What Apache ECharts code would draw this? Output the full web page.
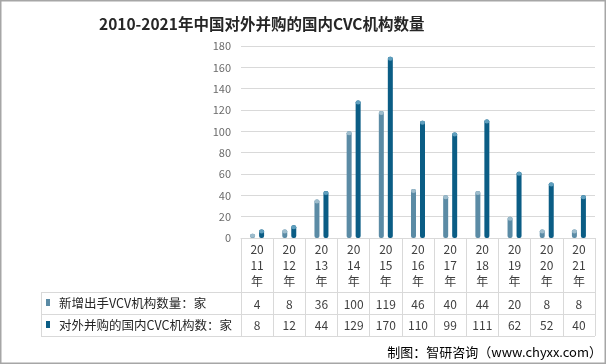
<!DOCTYPE html>
<html>
<head>
<meta charset="utf-8">
<script src="https://cdn.jsdelivr.net/npm/echarts@6/dist/echarts.min.js"></script>
<style>html,body{margin:0;padding:0;background:#fff;}#c{width:606px;height:364px;}</style>
</head>
<body>
<div id="c"></div>
<script>
const titleText = '2010-2021年中国对外并购的国内CVC机构数量';
const years = ['2011', '2012', '2013', '2014', '2015', '2016', '2017', '2018', '2019', '2020', '2021'];
const seriesNames = ['新增出手VCV机构数量：家', '对外并购的国内CVC机构数：家'];
const newVcv = [4, 8, 36, 100, 119, 46, 40, 44, 20, 8, 8];
const cvcMa = [8, 12, 44, 129, 170, 110, 99, 111, 62, 52, 40];
const yTicks = {min: 0, max: 180, interval: 20};
const footer = '制图：智研咨询（www.chyxx.com）';

const FONT = '"Noto Sans CJK SC", "Noto Sans", sans-serif';
const C1 = '#5b8ba5', C2 = '#0b5d85';
const CAP1 = '#9dbccc', CAP2 = '#5f9fbe';
const grid = {left: 241, right: 11, top: 46, bottom: 126};
const lineCol = '#d9d9d9';

const chart = echarts.init(document.getElementById('c'), null, {renderer: 'canvas'});
const valueAxisCommon = {
  type: 'category', gridIndex: 0, position: 'bottom',
  axisLine: {show: false}, axisTick: {show: false}, splitLine: {show: false},
  data: years
};
chart.setOption({
  animation: false,
  title: {
    text: titleText, left: 99, top: 16, padding: 0,
    textStyle: {fontFamily: FONT, fontSize: 15.5, fontWeight: 'bold', color: '#262626'}
  },
  grid: grid,
  xAxis: [
    {
      type: 'category', data: years, position: 'bottom',
      axisLine: {show: true, lineStyle: {color: lineCol}},
      axisTick: {show: true, length: 98, lineStyle: {color: lineCol}},
      axisLabel: {
        margin: 3, fontFamily: FONT, fontSize: 12, color: '#404040', lineHeight: 16,
        verticalAlign: 'top',
        formatter: v => v.slice(0, 2) + '\n' + v.slice(2) + '\n年'
      }
    },
    Object.assign({}, valueAxisCommon, {
      offset: 66,
      axisLabel: {margin: 0, verticalAlign: 'middle', fontFamily: FONT, fontSize: 12, color: '#404040',
        formatter: (v, i) => String(newVcv[i])}
    }),
    Object.assign({}, valueAxisCommon, {
      offset: 87,
      axisLabel: {margin: 0, verticalAlign: 'middle', fontFamily: FONT, fontSize: 12, color: '#404040',
        formatter: (v, i) => String(cvcMa[i])}
    })
  ],
  yAxis: {
    type: 'value', min: yTicks.min, max: yTicks.max, interval: yTicks.interval,
    axisLine: {show: false}, axisTick: {show: false},
    axisLabel: {margin: 10, fontFamily: FONT, fontSize: 11, color: '#6b6b6b'},
    splitLine: {lineStyle: {color: lineCol}}
  },
  series: [
    {name: seriesNames[0], type: 'bar', data: newVcv, barWidth: 5, barGap: '80%',
      itemStyle: {color: C1, borderRadius: 2}},
    {name: seriesNames[1], type: 'bar', data: cvcMa, barWidth: 5, barGap: '80%',
      itemStyle: {color: C2, borderRadius: 2}},
    {type: 'pictorialBar', data: newVcv, symbol: 'circle', symbolSize: [5, 4],
      symbolPosition: 'end', symbolOffset: [-4.5, '0%'], z: 3, itemStyle: {color: CAP1}, silent: true},
    {type: 'pictorialBar', data: cvcMa, symbol: 'circle', symbolSize: [5, 4],
      symbolPosition: 'end', symbolOffset: [4.5, '0%'], z: 3, itemStyle: {color: CAP2}, silent: true}
  ],
  graphic: [
    {type: 'rect', shape: {x: 0.75, y: 0.75, width: 604.5, height: 362.5}, style: {fill: null, stroke: '#a6a6a6', lineWidth: 1.5}, silent: true},
    {type: 'line', shape: {x1: 41, y1: 292.5, x2: 595, y2: 292.5}, style: {stroke: lineCol, lineWidth: 1}},
    {type: 'line', shape: {x1: 41, y1: 314.5, x2: 595, y2: 314.5}, style: {stroke: lineCol, lineWidth: 1}},
    {type: 'line', shape: {x1: 41, y1: 336.5, x2: 595, y2: 336.5}, style: {stroke: lineCol, lineWidth: 1}},
    {type: 'line', shape: {x1: 41.5, y1: 292, x2: 41.5, y2: 337}, style: {stroke: lineCol, lineWidth: 1}},
    {type: 'rect', shape: {x: 46, y: 299, width: 4, height: 7}, style: {fill: C1}},
    {type: 'rect', shape: {x: 46, y: 321, width: 4, height: 7}, style: {fill: C2}},
    {type: 'text', x: 59, y: 303.5, style: {text: seriesNames[0], font: '12.5px ' + FONT, fill: '#262626', verticalAlign: 'middle'}},
    {type: 'text', x: 59, y: 325.5, style: {text: seriesNames[1], font: '12.5px ' + FONT, fill: '#262626', verticalAlign: 'middle'}},
    {type: 'text', x: 602, y: 352, style: {text: footer, font: '13px ' + FONT, fill: '#000', align: 'right', verticalAlign: 'middle'}}
  ]
});
</script>
</body>
</html>
